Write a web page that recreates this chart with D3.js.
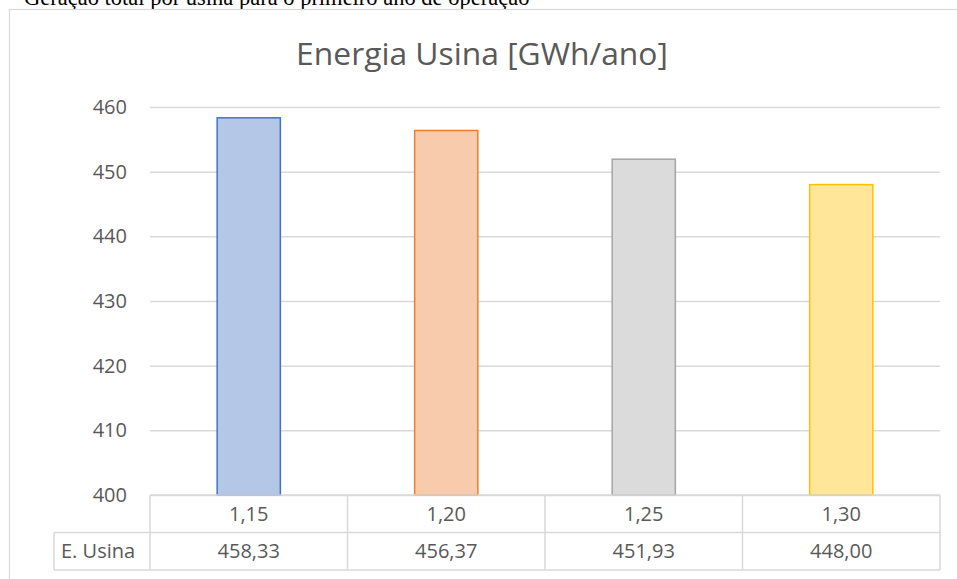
<!DOCTYPE html>
<html>
<head>
<meta charset="utf-8">
<script src="https://cdn.jsdelivr.net/npm/d3@7"></script>
<style>
  html, body { margin: 0; padding: 0; background: #fff; }
  svg { display: block; }
</style>
</head>
<body>
<svg id="chart" width="957" height="579"></svg>
<script>
// Energia gerada por usina no primeiro ano, por fator de dimensionamento
const categories = ["1,15", "1,20", "1,25", "1,30"];
const energia = [458.33, 456.37, 451.93, 448.00];
const yTicks = [400, 410, 420, 430, 440, 450, 460];
const seriesName = "E. Usina";
const fills = ["#B4C7E7", "#F8CBAD", "#DBDBDB", "#FFE699"];
const strokes = ["#4472C4", "#ED7D31", "#A5A5A5", "#FFC000"];

const svg = d3.select("#chart");
const font = "'Open Sans', sans-serif";
const textColor = "#595959";
const lineColor = "#D9D9D9";

const plot = { left: 150, right: 940, top: 107, bottom: 495 };
const rowH = 37.5;

const x = d3.scaleBand().domain(categories).range([plot.left, plot.right]);
const y = d3.scaleLinear().domain([400, 460]).range([plot.bottom, plot.top]);
const fmt = d3.formatLocale({ decimal: ",", thousands: "." }).format(".2f");

// caption above the chart frame
svg.append("text")
  .attr("x", 24).attr("y", 5)
  .attr("font-family", "'Liberation Serif', serif")
  .attr("font-size", 22.5)
  .attr("fill", "#000")
  .text("Geração total por usina para o primeiro ano de operação");

// chart frame
svg.append("rect")
  .attr("x", 9.5).attr("y", 9.5)
  .attr("width", 1000).attr("height", 600)
  .attr("fill", "#fff")
  .attr("stroke", lineColor).attr("stroke-width", 1.2);

// title
svg.append("text")
  .attr("x", 482).attr("y", 65)
  .attr("text-anchor", "middle")
  .attr("font-family", font)
  .attr("font-size", 31.8)
  .attr("fill", textColor)
  .text("Energia Usina [GWh/ano]");

// value axis with gridlines
const yAxis = svg.append("g")
  .attr("transform", `translate(${plot.left},0)`)
  .call(d3.axisLeft(y).tickValues(yTicks)
    .tickSize(-(plot.right - plot.left))
    .tickPadding(23)
    .tickFormat(d3.format("d")));
yAxis.select(".domain").remove();
yAxis.selectAll(".tick line").attr("stroke", lineColor).attr("stroke-width", 1.5);
yAxis.selectAll(".tick text")
  .attr("font-family", font).attr("font-size", 20).attr("fill", textColor);

// bars
const barW = x.bandwidth() * 0.32;
svg.append("g").selectAll("rect")
  .data(categories)
  .join("rect")
  .attr("x", d => x(d) + (x.bandwidth() - barW) / 2)
  .attr("y", (d, i) => y(energia[i]))
  .attr("width", barW)
  .attr("height", (d, i) => y(400) - y(energia[i]))
  .attr("fill", (d, i) => fills[i])
  .attr("stroke", (d, i) => strokes[i])
  .attr("stroke-width", 1.5);

// data table under the plot
const table = svg.append("g")
  .attr("stroke", lineColor).attr("stroke-width", 1.5).attr("fill", "none");
const tLeft = 54;
const r0 = plot.bottom, r1 = plot.bottom + rowH, r2 = plot.bottom + 2 * rowH;
table.append("line").attr("x1", plot.left).attr("x2", plot.right).attr("y1", r0).attr("y2", r0);
table.append("line").attr("x1", tLeft).attr("x2", plot.right).attr("y1", r1).attr("y2", r1);
table.append("line").attr("x1", tLeft).attr("x2", plot.right).attr("y1", r2).attr("y2", r2);
table.append("line").attr("x1", tLeft).attr("x2", tLeft).attr("y1", r1).attr("y2", r2);
table.selectAll("line.sep")
  .data(categories.map(c => x(c)).concat([plot.right]))
  .join("line").attr("class", "sep")
  .attr("x1", d => d).attr("x2", d => d)
  .attr("y1", r0).attr("y2", r2);

const cells = svg.append("g")
  .attr("font-family", font).attr("font-size", 20).attr("fill", textColor)
  .attr("text-anchor", "middle");
cells.selectAll("text.cat")
  .data(categories)
  .join("text").attr("class", "cat")
  .attr("x", d => x(d) + x.bandwidth() / 2)
  .attr("y", r0 + rowH / 2)
  .attr("dy", "0.35em")
  .text(d => d);
cells.selectAll("text.val")
  .data(energia)
  .join("text").attr("class", "val")
  .attr("x", (d, i) => x(categories[i]) + x.bandwidth() / 2)
  .attr("y", r1 + rowH / 2)
  .attr("dy", "0.35em")
  .text(d => fmt(d));
cells.append("text")
  .attr("x", tLeft + 7)
  .attr("y", r1 + rowH / 2)
  .attr("dy", "0.35em")
  .attr("text-anchor", "start")
  .text(seriesName);
</script>
</body>
</html>
